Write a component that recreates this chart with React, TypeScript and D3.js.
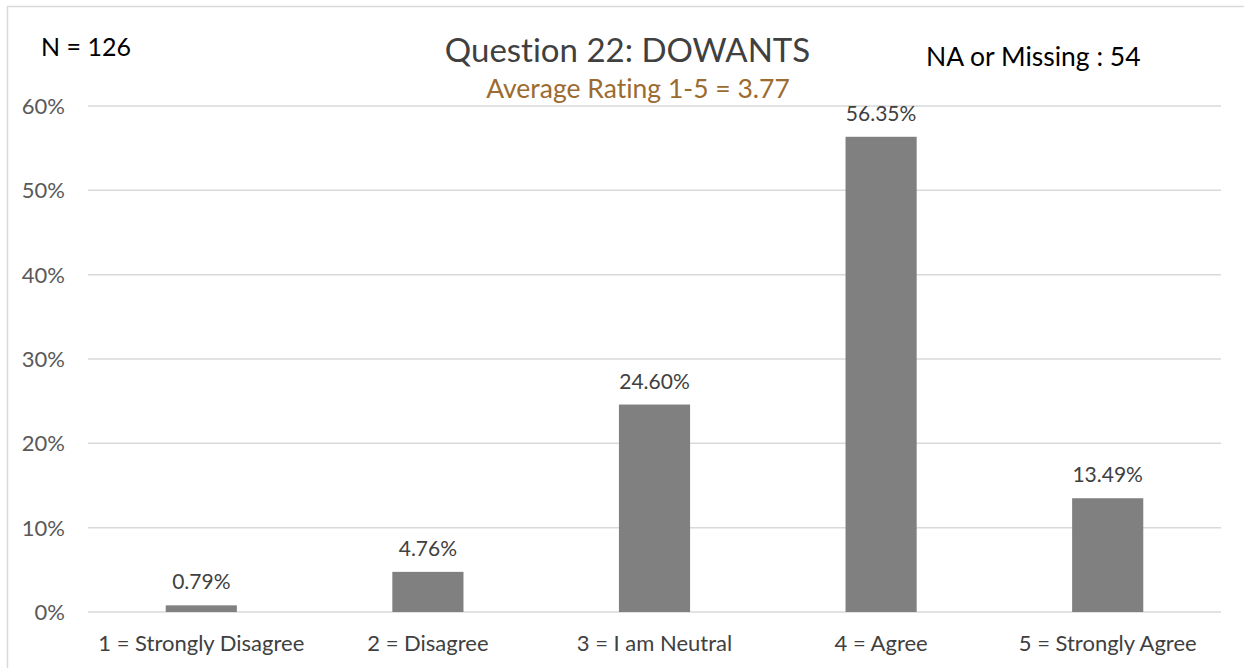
import React from "react";
import * as d3 from "d3";

const categories = [
  "1 = Strongly Disagree",
  "2 = Disagree",
  "3 = I am Neutral",
  "4 = Agree",
  "5 = Strongly Agree",
];
const values = [0.79, 4.76, 24.6, 56.35, 13.49];
const yTicks = [0, 10, 20, 30, 40, 50, 60];
const titleText = "Question 22: DOWANTS";
const subtitleText = "Average Rating 1-5 = 3.77";
const nText = "N = 126";
const naText = "NA or Missing : 54";

const W = 1244;
const H = 668;
const FONT = "Lato, 'Open Sans', sans-serif";

export default function App() {
  const left = 88;
  const right = 1221;
  const top = 106;
  const bottom = 612;
  const x = d3.scaleBand<string>().domain(categories).range([left, right]).paddingInner(0.686).paddingOuter(0.343);
  const y = d3.scaleLinear().domain([0, 60]).range([bottom, top]);
  const band = d3.scaleBand<string>().domain(categories).range([left, right]);

  return (
    <svg
      width={W}
      height={H}
      style={{ position: "absolute", left: 0, top: 0, background: "#fff", fontVariantLigatures: "none" }}
      fontFamily={FONT}
    >
      <rect x={0} y={0} width={W} height={H} fill="#fff" />
      <line x1={7} y1={6.5} x2={W} y2={6.5} stroke="#d9d9d9" strokeWidth={1.5} />
      <line x1={7.5} y1={6} x2={7.5} y2={H} stroke="#d9d9d9" strokeWidth={1.5} />
      {yTicks.map((t) => (
        <g key={t}>
          <line x1={left} x2={right} y1={y(t)} y2={y(t)} stroke="#d9d9d9" strokeWidth={1.5} />
          <text x={65} y={y(t) + 8} textAnchor="end" fontSize={22} fill="#595959">
            {t}%
          </text>
        </g>
      ))}
      {categories.map((c, i) => (
        <g key={c}>
          <rect x={x(c)} y={y(values[i])} width={x.bandwidth()} height={bottom - y(values[i])} fill="#808080" />
          <text
            x={(x(c) as number) + x.bandwidth() / 2}
            y={y(values[i]) - 16}
            textAnchor="middle"
            fontSize={21}
            fill="#404040"
          >
            {values[i].toFixed(2)}%
          </text>
          <text
            x={(band(c) as number) + band.bandwidth() / 2}
            y={651}
            textAnchor="middle"
            fontSize={22}
            fill="#404040"
          >
            {c}
          </text>
        </g>
      ))}
      <text x={627.5} y={62} textAnchor="middle" fontSize={33} fill="#404040">
        {titleText}
      </text>
      <text x={638} y={98} textAnchor="middle" fontSize={26.5} fill="#9c6b30">
        {subtitleText}
      </text>
      <text x={41} y={56} fontSize={25} fill="#000">
        {nText}
      </text>
      <text x={926} y={66} fontSize={26.5} fill="#000">
        {naText}
      </text>
    </svg>
  );
}
